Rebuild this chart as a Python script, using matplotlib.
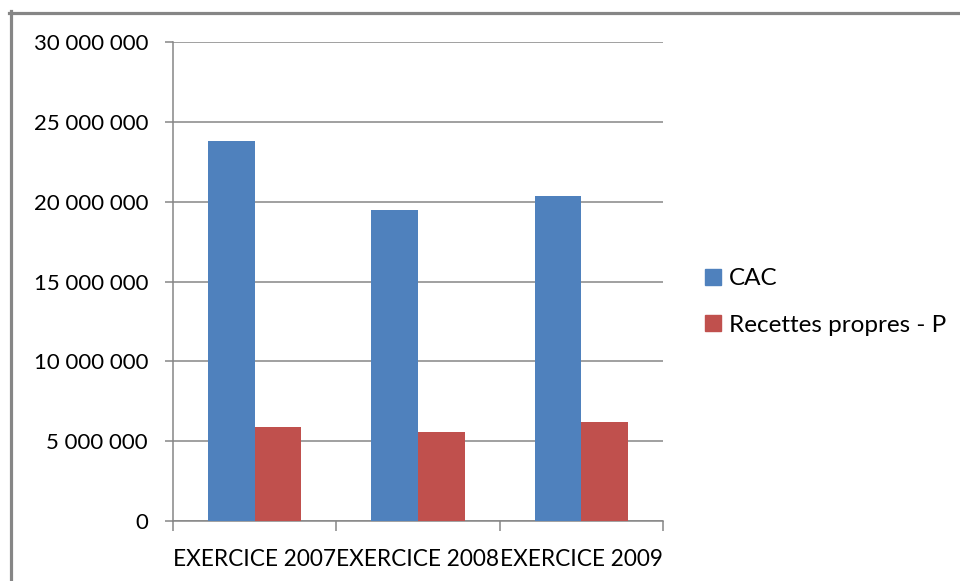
import matplotlib
matplotlib.use("Agg")
import matplotlib.pyplot as plt
import numpy as np
from matplotlib.ticker import FuncFormatter, FixedLocator
from matplotlib.lines import Line2D

categories = ["EXERCICE 2007", "EXERCICE 2008", "EXERCICE 2009"]
series_names = ["CAC", "Recettes propres - P"]
cac = [23800000, 19470000, 20350000]
recettes = [5890000, 5570000, 6200000]
colors = ["#4F81BD", "#C0504D"]
yticks = [0, 5000000, 10000000, 15000000, 20000000, 25000000, 30000000]

plt.rcParams['font.family'] = ['Lato', 'DejaVu Sans']

W, H = 960, 581
fig = plt.figure(figsize=(W / 100, H / 100), dpi=100)
ax = fig.add_axes([173 / W, 1 - 521 / H, (663 - 173) / W, (521 - 42) / H])

x = np.arange(len(categories))
bw = 0.285
ax.bar(x - bw / 2, cac, bw, color=colors[0], label=series_names[0], zorder=3)
ax.bar(x + bw / 2, recettes, bw, color=colors[1], label=series_names[1], zorder=3)

ax.set_xlim(-0.5, len(categories) - 0.5)
ax.set_ylim(0, 30000000)
ax.yaxis.set_major_locator(FixedLocator(yticks))
ax.yaxis.set_major_formatter(FuncFormatter(lambda v, p: f"{int(v):,}".replace(",", " ")))

grid_c = "#868686"
ax.grid(axis="y", color=grid_c, linewidth=1.1, zorder=0)
for s in ["top", "right"]:
    ax.spines[s].set_visible(False)
for s in ["left", "bottom"]:
    ax.spines[s].set_color(grid_c)
    ax.spines[s].set_linewidth(1.1)

ax.set_xticks(x)
ax.set_xticklabels(categories)
ax.set_xticks(np.arange(-0.5, len(categories), 1.0), minor=True)
ax.tick_params(axis="x", which="major", length=0, pad=20, labelsize=16.3)
ax.tick_params(axis="x", which="minor", length=7, width=1.1, color=grid_c, direction="out")
ax.tick_params(axis="y", which="major", length=6, width=1.1, color=grid_c, pad=12, labelsize=16)

handles = [Line2D([], [], marker="s", linestyle="none", markersize=11,
                  markerfacecolor=c, markeredgecolor=c) for c in colors]
leg = fig.legend(handles, series_names, loc="center left",
                 bbox_to_anchor=(683 / W, 1 - 302 / H), frameon=False,
                 fontsize=17.5, handlelength=0.7, handletextpad=0.3,
                 labelspacing=1.05)

# outer chart frame
fig.add_artist(Line2D([10.5 / W, 10.5 / W], [0, 1 - 11 / H], transform=fig.transFigure,
                      color=grid_c, linewidth=2.3))
fig.add_artist(Line2D([9 / W, 1], [1 - 12.5 / H, 1 - 12.5 / H], transform=fig.transFigure,
                      color=grid_c, linewidth=2.3))

fig.savefig("out.png", dpi=100)
